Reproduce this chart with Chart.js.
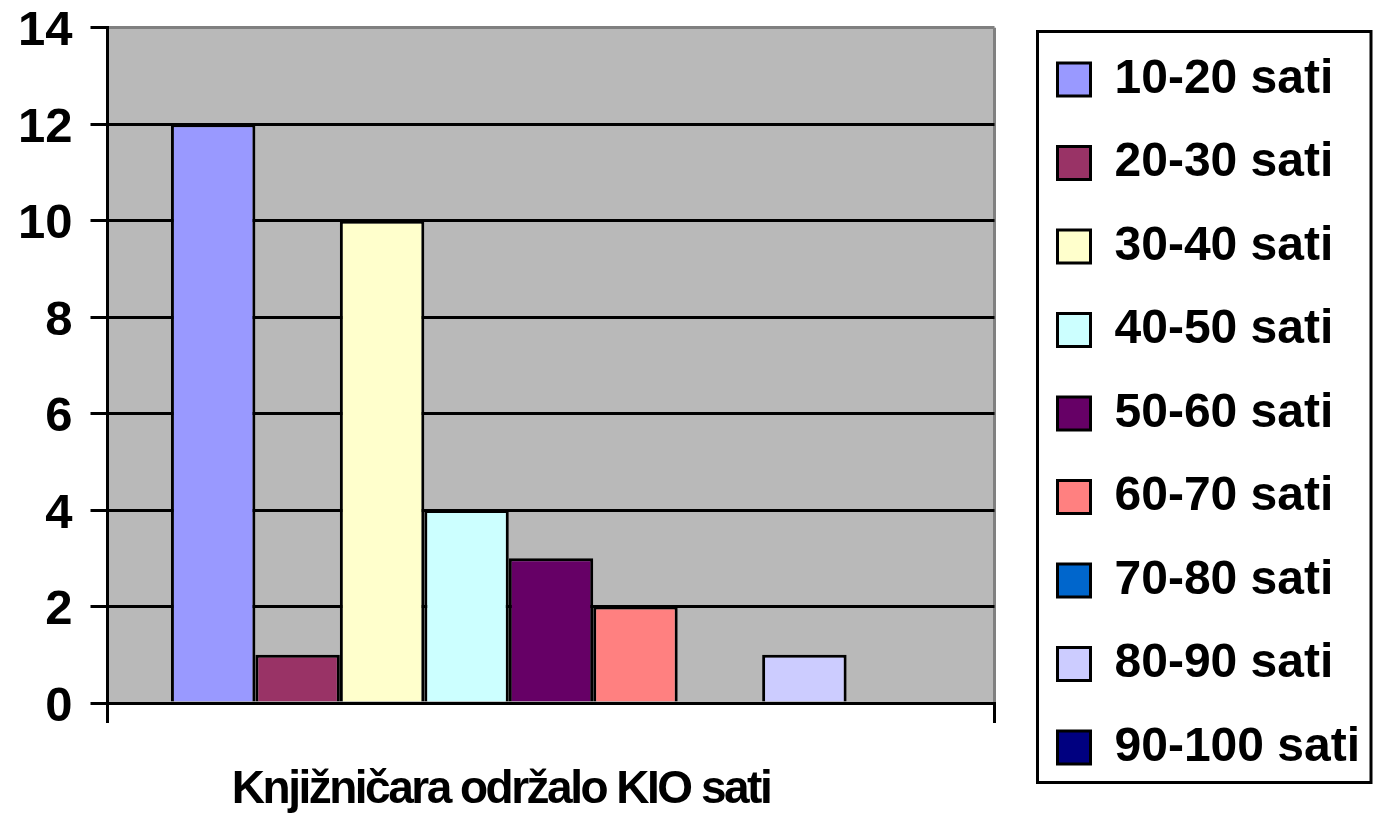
<!DOCTYPE html>
<html>
<head>
<meta charset="utf-8">
<script src="https://cdn.jsdelivr.net/npm/chart.js@4/dist/chart.umd.min.js"></script>
<style>
  html, body { margin: 0; padding: 0; background: #fff; }
  #wrap { width: 1373px; height: 818px; }
</style>
</head>
<body>
<div id="wrap"><canvas id="chart"></canvas></div>
<script>
// podaci
const categories = ['Knjižničara održalo KIO sati'];
const seriesNames = ['10-20 sati', '20-30 sati', '30-40 sati', '40-50 sati', '50-60 sati',
                     '60-70 sati', '70-80 sati', '80-90 sati', '90-100 sati'];
const seriesValues = [12, 1, 10, 4, 3, 2, 0, 1, 0];
const seriesColors = ['#9999FF', '#993366', '#FFFFCC', '#CCFFFF', '#660066',
                      '#FF8080', '#0066CC', '#CCCCFF', '#000080'];
const yTicks = [0, 2, 4, 6, 8, 10, 12, 14];

const FONT = '"Liberation Sans", Arial, sans-serif';
const LEGEND_PAD = 35.5;

// siva pozadina područja grafa
const plotBg = {
    id: 'plotBg',
    beforeDraw(chart) {
        const a = chart.chartArea, ctx = chart.ctx;
        ctx.save();
        ctx.fillStyle = '#B9B9B9';
        ctx.fillRect(a.left, a.top, a.right - a.left, a.bottom - a.top);
        ctx.restore();
    }
};

// legenda malo udesno, s okvirom
const legendFrame = {
    id: 'legendFrame',
    afterLayout(chart) {
        const L = chart.legend;
        L.left = 1022;
        L.right = chart.width;
        L.width = L.right - L.left;
    },
    afterDatasetsDraw(chart) {
        // uži razmak slova za naziv kategorije (crta se poslije stupaca)
        chart.ctx.letterSpacing = '-2.5px';
    },
    afterDraw(chart) {
        const ctx = chart.ctx;
        ctx.letterSpacing = '0px';
        const L = chart.legend;
        const boxes = L.legendHitBoxes;
        if (!boxes || !boxes.length) return;
        const first = boxes[0], last = boxes[boxes.length - 1];
        const x0 = L.left + LEGEND_PAD - 20, y0 = first.top - 24;
        const x1 = chart.width - 2, y1 = last.top + last.height + 11;
        ctx.save();
        ctx.strokeStyle = '#000';
        ctx.lineWidth = 3;
        ctx.strokeRect(x0, y0, x1 - x0, y1 - y0);
        ctx.restore();
    }
};

const datasets = seriesNames.map((name, i) => ({
    label: name,
    data: [seriesValues[i]],
    backgroundColor: seriesColors[i],
    borderColor: '#000',
    borderWidth: 3,
    barPercentage: 1.0,
    categoryPercentage: 0.857
}));

new Chart(document.getElementById('chart').getContext('2d'), {
    type: 'bar',
    data: { labels: categories, datasets: datasets },
    options: {
        responsive: true,
        maintainAspectRatio: false,
        animation: false,
        layout: { padding: { top: 0, right: 47, bottom: 3, left: 0 } },
        scales: {
            x: {
                offset: true,
                afterFit: s => { s.height = 112; },
                grid: {
                    display: true,
                    drawOnChartArea: true,
                    offset: true,
                    color: ctx => ctx.index === 0 ? '#000' : '#808080',
                    tickColor: '#000',
                    lineWidth: 3,
                    tickLength: 20
                },
                border: { display: true, color: '#000', width: 3 },
                ticks: {
                    z: 1,
                    color: '#000',
                    padding: 40,
                    labelOffset: -50,
                    maxRotation: 0,
                    font: { family: FONT, size: 46, weight: 'bold' }
                }
            },
            y: {
                min: 0,
                max: 14,
                afterBuildTicks: s => { s.ticks = yTicks.map(v => ({ value: v })); },
                grid: {
                    color: ctx => ctx.tick && ctx.tick.value === 14 ? '#808080' : '#000',
                    tickColor: '#000',
                    lineWidth: 3,
                    tickLength: 17
                },
                border: { display: true, color: '#000', width: 3 },
                ticks: {
                    color: '#000',
                    padding: 18,
                    labelOffset: 4,
                    font: { family: FONT, size: 49, weight: 'bold', lineHeight: 0.4 }
                }
            }
        },
        plugins: {
            legend: {
                position: 'right',
                align: 'center',
                title: { display: true, text: '', font: { size: 10 }, padding: 0 },
                labels: {
                    color: '#000',
                    boxWidth: 33,
                    boxHeight: 33,
                    padding: LEGEND_PAD,
                    font: { family: FONT, size: 48, weight: 'bold' }
                }
            },
            tooltip: { enabled: false }
        }
    },
    plugins: [plotBg, legendFrame]
});
</script>
</body>
</html>
